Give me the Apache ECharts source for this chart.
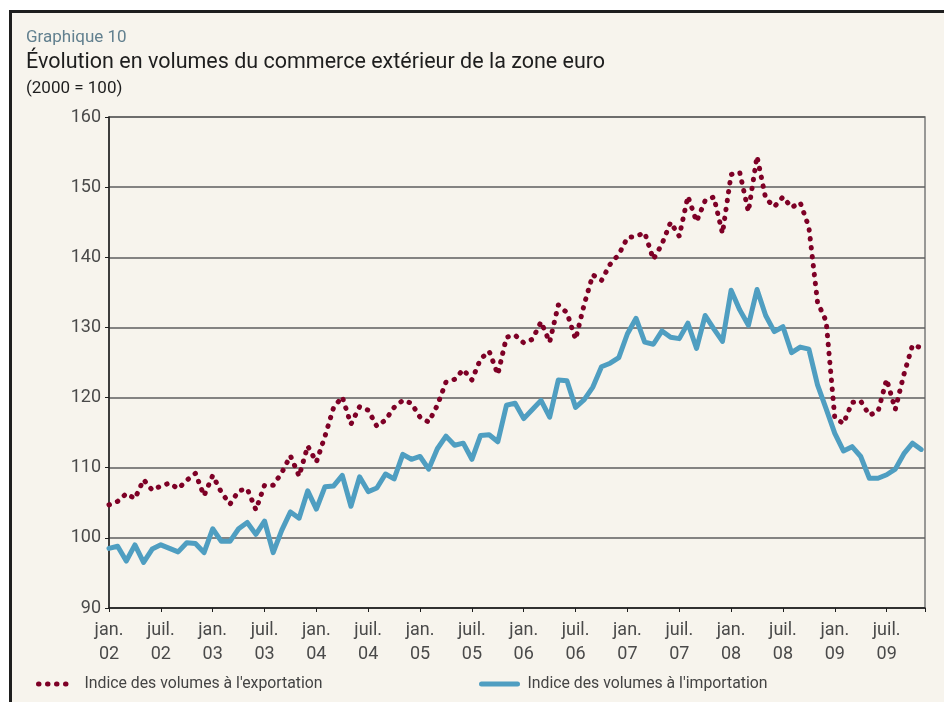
<!DOCTYPE html>
<html>
<head>
<meta charset="utf-8">
<title>Graphique 10</title>
<script src="https://cdn.jsdelivr.net/npm/echarts@6/dist/echarts.min.js"></script>
<style>
  html, body { margin: 0; padding: 0; background: #fff; }
  body { width: 944px; height: 702px; overflow: hidden; position: relative; }
  #frame {
    position: absolute; left: 9px; top: 10px; width: 960px; height: 720px;
    border: 3px solid #1e1e1e; background: #f7f4ed; box-sizing: border-box;
  }
  #chart { position: absolute; left: 0; top: 0; width: 944px; height: 702px; }
</style>
</head>
<body>
<div id="frame"></div>
<div id="chart"></div>
<script>
// indices mensuels, janv. 2002 -> nov. 2009 (2000 = 100)
const exportVol = [
  104.7, 105.2, 106.3, 105.6, 108.3, 106.8, 107.4, 107.8, 107.0, 108.2,
  109.2, 106.0, 108.9, 106.5, 104.8, 106.7, 107.0, 104.0, 107.5, 107.5,
  109.3, 111.7, 108.8, 113.1, 110.8, 114.5, 118.6, 120.1, 116.2, 118.7,
  118.2, 115.9, 116.8, 118.6, 119.6, 119.2, 117.2, 116.5, 118.9, 122.2,
  122.6, 124.0, 122.5, 125.5, 126.6, 123.3, 128.6, 128.9, 127.8, 128.3,
  130.8, 127.9, 133.2, 132.1, 128.3, 133.3, 137.5, 136.7, 139.0, 140.4,
  142.8, 143.0, 143.5, 139.7, 141.9, 145.0, 143.0, 148.7, 145.1, 148.1,
  148.6, 143.4, 151.8, 152.1, 146.5, 154.4, 148.4, 147.2, 148.6, 147.1,
  147.8, 144.3, 133.6, 130.9, 117.1, 116.3, 119.3, 119.5, 117.5, 118.0,
  122.6, 118.3, 123.3, 127.5, 127.1
];
const importVol = [
  98.5, 98.8, 96.7, 99.0, 96.5, 98.4, 99.0, 98.5, 98.0, 99.3,
  99.2, 97.9, 101.3, 99.5, 99.5, 101.3, 102.2, 100.5, 102.4, 97.9,
  101.1, 103.7, 102.8, 106.7, 104.1, 107.3, 107.4, 108.9, 104.5, 108.7,
  106.6, 107.1, 109.1, 108.4, 111.9, 111.2, 111.6, 109.8, 112.7, 114.5,
  113.2, 113.5, 111.2, 114.6, 114.7, 113.7, 118.9, 119.2, 117.0, 118.3,
  119.6, 117.2, 122.5, 122.4, 118.6, 119.7, 121.5, 124.4, 124.9, 125.7,
  129.1, 131.3, 127.9, 127.6, 129.5, 128.6, 128.4, 130.6, 127.0, 131.7,
  129.8, 128.0, 135.3, 132.5, 130.3, 135.4, 131.7, 129.4, 130.1, 126.4,
  127.2, 126.9, 121.8, 118.4, 114.9, 112.4, 113.0, 111.6, 108.5, 108.5,
  109.0, 109.8, 112.0, 113.5, 112.6
];
// une étiquette tous les 6 mois
const tickLabels = [
  'jan.\n02', 'juil.\n02', 'jan.\n03', 'juil.\n03', 'jan.\n04', 'juil.\n04',
  'jan.\n05', 'juil.\n05', 'jan.\n06', 'juil.\n06', 'jan.\n07', 'juil.\n07',
  'jan.\n08', 'juil.\n08', 'jan.\n09', 'juil.\n09'
];
const exportName = "Indice des volumes à l'exportation";
const importName = "Indice des volumes à l'importation";

const font = 'Roboto, "DejaVu Sans", sans-serif';
const toPairs = arr => arr.map((v, i) => [i, v]);

const chart = echarts.init(document.getElementById('chart'), null, { renderer: 'canvas' });

// légende : trait épais comme la série, sans le rond central
const legendBase = {
  top: 676, padding: 0, itemHeight: 6, selectedMode: false,
  lineStyle: { width: 5 },
  itemStyle: { opacity: 0 }
};

chart.setOption({
  backgroundColor: 'transparent',
  animation: false,
  textStyle: { fontFamily: font },
  title: [
    { text: 'Graphique 10', left: 26, top: 29, padding: 0,
      textStyle: { fontSize: 17, fontWeight: 'normal', color: '#62808f', fontFamily: font } },
    { text: 'Évolution en volumes du commerce extérieur de la zone euro', left: 26, top: 52, padding: 0,
      textStyle: { fontSize: 21.5, fontWeight: 'normal', color: '#1e1e1e', fontFamily: font } },
    { text: '(2000 = 100)', left: 26, top: 80, padding: 0,
      textStyle: { fontSize: 17, fontWeight: 'normal', color: '#1e1e1e', fontFamily: font } }
  ],
  legend: [
    Object.assign({}, legendBase, {
      data: [exportName], left: 36, itemWidth: 34,
      textStyle: { fontSize: 15.8, color: '#444', fontFamily: font, padding: [0, 0, 0, 7] }
    }),
    Object.assign({}, legendBase, {
      data: [importName], left: 479, itemWidth: 36,
      textStyle: { fontSize: 15.8, color: '#444', fontFamily: font, padding: [0, 0, 0, 5] }
    })
  ],
  grid: {
    left: 109, right: 19, top: 117, bottom: 94,
    show: true, borderColor: '#7a7a7a', borderWidth: 1.5,
    outerBoundsMode: 'none'
  },
  xAxis: {
    type: 'value', min: 0, max: 94.44, interval: 6,
    axisLine: { lineStyle: { color: '#1e1e1e', width: 1.5 } },
    axisTick: { length: 4, lineStyle: { color: '#1e1e1e', width: 1 } },
    splitLine: { show: false },
    axisLabel: {
      color: '#4a4a4a', fontSize: 18, lineHeight: 24, margin: 10, fontFamily: font,
      formatter: v => (v % 6 === 0 ? (tickLabels[v / 6] || '') : '')
    }
  },
  yAxis: {
    type: 'value', min: 90, max: 160, interval: 10,
    axisLine: { show: true, lineStyle: { color: '#1e1e1e', width: 1.5 } },
    axisTick: { show: true, length: 4, lineStyle: { color: '#1e1e1e', width: 1 } },
    splitLine: { lineStyle: { color: '#5e5e5e', width: 1.5 } },
    axisLabel: { color: '#4a4a4a', fontSize: 18, margin: 8, fontFamily: font }
  },
  series: [
    {
      name: importName, type: 'line', data: toPairs(importVol),
      symbol: 'none', z: 2,
      lineStyle: { color: '#4f9ec1', width: 5, join: 'round', cap: 'round' },
      itemStyle: { color: '#4f9ec1' }
    },
    {
      name: exportName, type: 'line', data: toPairs(exportVol),
      symbol: 'none', z: 3,
      lineStyle: { color: '#7e0026', width: 5, type: [0.5, 8.5], cap: 'round', join: 'round' },
      itemStyle: { color: '#7e0026' }
    }
  ]
});
</script>
</body>
</html>
